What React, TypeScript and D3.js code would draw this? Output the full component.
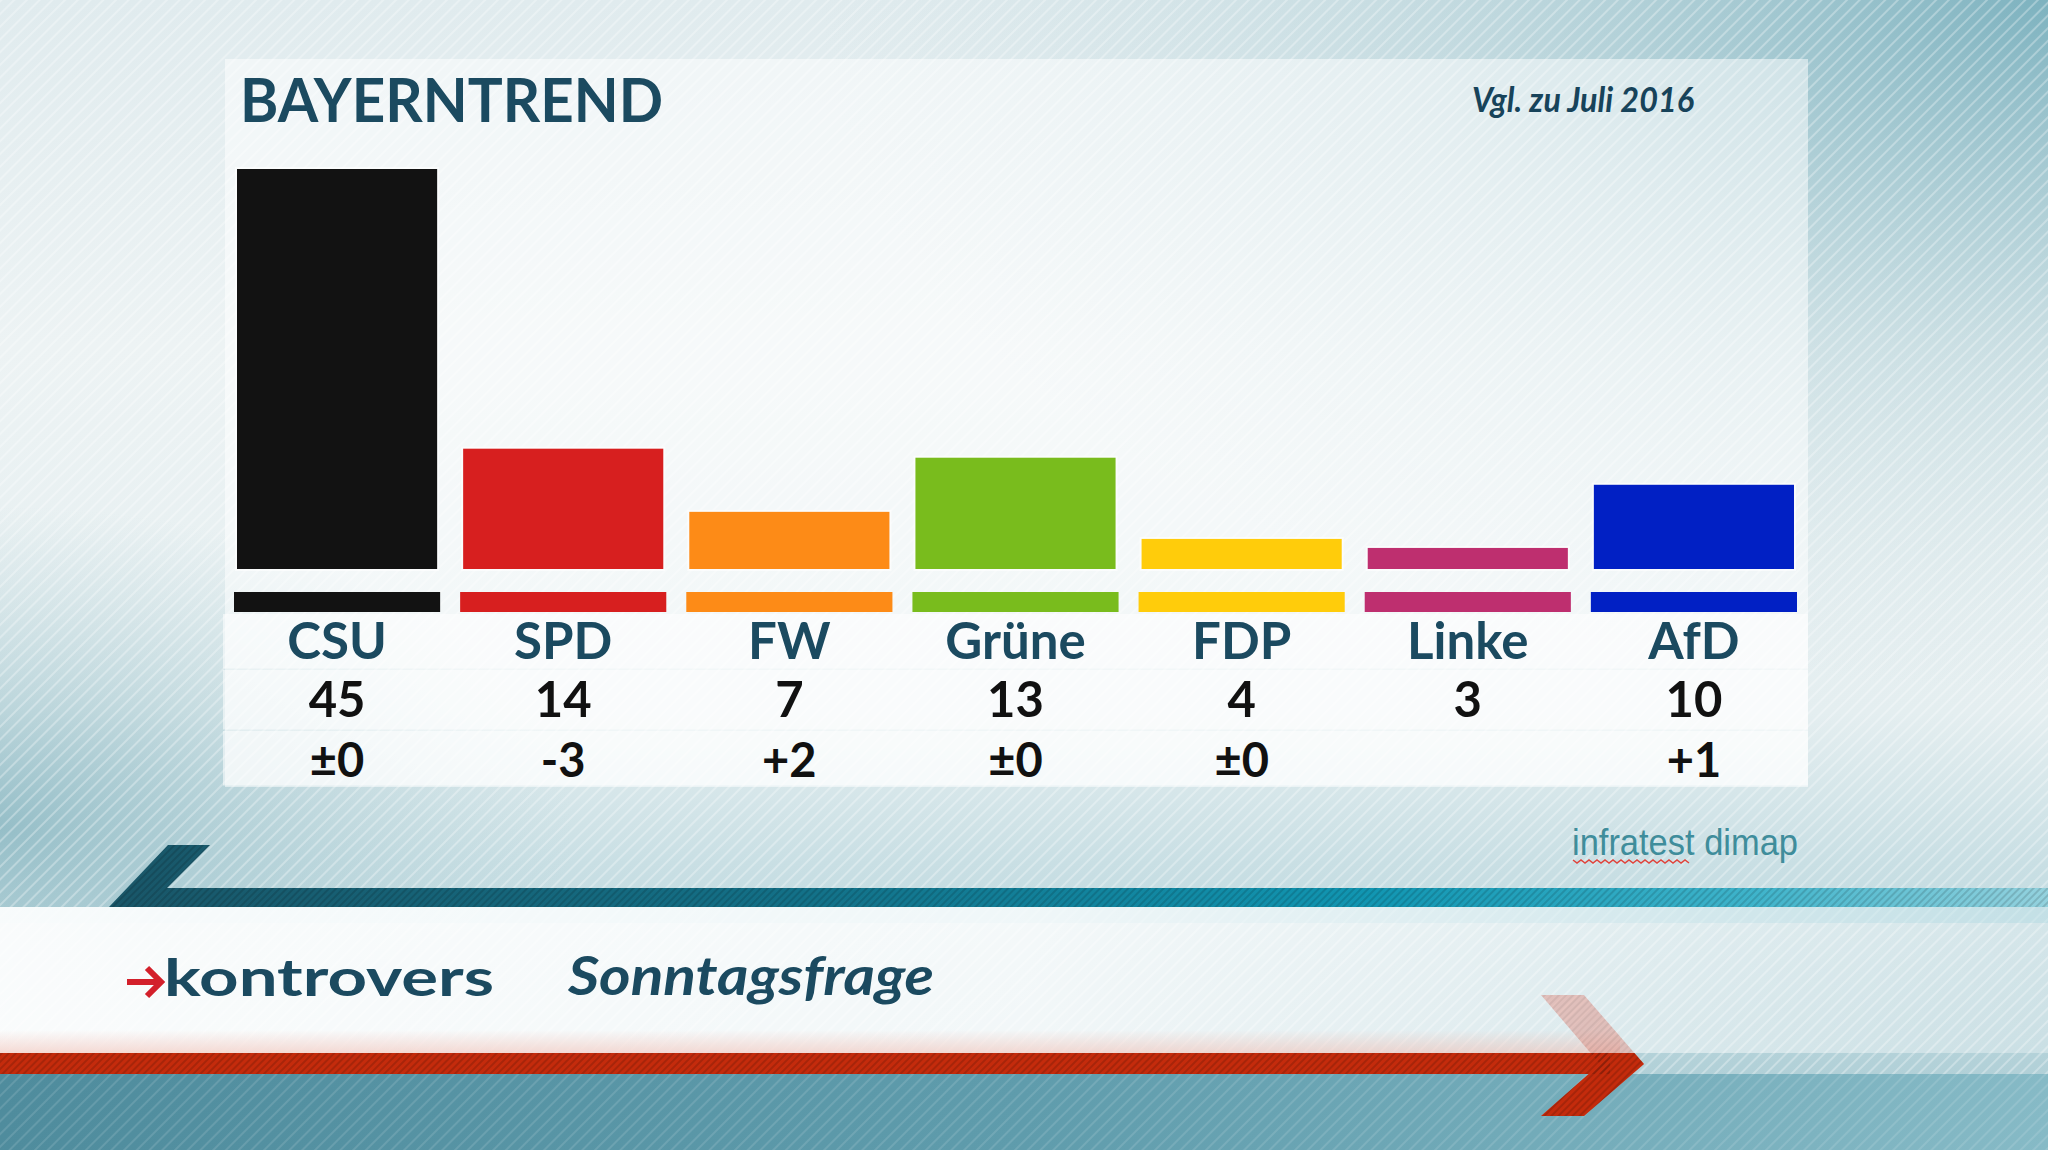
import * as d3 from "d3";

const W = 2048;
const H = 1150;

// chart data
const parties = ["CSU", "SPD", "FW", "Grüne", "FDP", "Linke", "AfD"];
const values = [45, 14, 7, 13, 4, 3, 10];
const changes = ["±0", "-3", "+2", "±0", "±0", "", "+1"];
const colors = ["#121212", "#d71f1f", "#fd8b17", "#79bc1d", "#ffcc0b", "#be2f6f", "#0120c4"];

const title = "BAYERNTREND";
const subtitle = "Vgl. zu Juli 2016";
const source = "infratest dimap";

const panel = { x0: 225, x1: 1808, y0: 59, y1: 787 };
const barBottom = 569;
const stripTop = 592;
const stripBottom = 612;
const rows = [614, 670, 731, 787];

const teal = "#1b4a60";
const font = "Lato, 'Open Sans', sans-serif";

const App = () => {
  const x = d3
    .scaleBand<string>()
    .domain(parties)
    .range([224, 1807])
    .paddingInner(0.115)
    .paddingOuter(0.0575);
  const y = d3.scaleLinear([0, 45], [575, 169]);
  const bw = x.bandwidth();

  const tealBar = d3.line()([
    [168, 845],
    [210, 845],
    [167, 888],
    [W, 888],
    [W, 907],
    [109, 907],
  ]) + "Z";
  const chevron = d3.line()([
    [1541, 995],
    [1584, 995],
    [1644, 1064],
    [1584, 1116],
    [1541, 1116],
    [1600, 1064],
  ]) + "Z";
  const redBar = "M0,1053H1610V1074H0Z";

  return (
    <svg width={W} height={H} style={{ display: "block", position: "absolute", left: 0, top: 0 }}>
      <defs>
        <linearGradient id="bg" x1="0" y1="0" x2="0" y2="1">
          <stop offset="0" stopColor="#e0ebee" />
          <stop offset="0.3" stopColor="#edf3f4" />
          <stop offset="0.62" stopColor="#e4eef0" />
          <stop offset="0.75" stopColor="#c9dfe4" />
          <stop offset="1" stopColor="#a9cbd3" />
        </linearGradient>
        <radialGradient id="tr" cx="1" cy="0" r="0.6">
          <stop offset="0" stopColor="#7db2bf" stopOpacity="1" />
          <stop offset="0.5" stopColor="#a7cad2" stopOpacity="0.5" />
          <stop offset="1" stopColor="#c7dde2" stopOpacity="0" />
        </radialGradient>
        <radialGradient id="lt" cx="0" cy="0.72" r="0.28">
          <stop offset="0" stopColor="#8fbac4" stopOpacity="0.9" />
          <stop offset="1" stopColor="#b5d2d8" stopOpacity="0" />
        </radialGradient>
        <pattern id="stripes" width="9" height="9" patternUnits="userSpaceOnUse" patternTransform="rotate(45)">
          <line x1="1" y1="0" x2="1" y2="9" stroke="#ffffff" strokeWidth="2" />
        </pattern>
        <pattern id="darkStripes" width="5" height="5" patternUnits="userSpaceOnUse" patternTransform="rotate(45)">
          <line x1="1" y1="0" x2="1" y2="5" stroke="#000000" strokeWidth="1.5" />
        </pattern>
        <linearGradient id="tealBar" x1="0" y1="0" x2="1" y2="0">
          <stop offset="0" stopColor="#195668" />
          <stop offset="0.35" stopColor="#137087" />
          <stop offset="0.65" stopColor="#1196b2" />
          <stop offset="0.85" stopColor="#3fb4cb" />
          <stop offset="1" stopColor="#94d2de" />
        </linearGradient>
        <linearGradient id="whiteBand" x1="0" y1="0" x2="1" y2="0">
          <stop offset="0" stopColor="#ffffff" stopOpacity="0.93" />
          <stop offset="0.5" stopColor="#ffffff" stopOpacity="0.82" />
          <stop offset="1" stopColor="#ffffff" stopOpacity="0.3" />
        </linearGradient>
        <linearGradient id="pink" x1="0" y1="0" x2="0" y2="1">
          <stop offset="0" stopColor="#f0b8ac" stopOpacity="0" />
          <stop offset="1" stopColor="#f0b8ac" stopOpacity="0.5" />
        </linearGradient>
        <linearGradient id="bottomTeal" x1="0" y1="0" x2="1" y2="0">
          <stop offset="0" stopColor="#4f8c9d" />
          <stop offset="0.5" stopColor="#5f9cac" />
          <stop offset="1" stopColor="#86bac6" />
        </linearGradient>
        <clipPath id="lowerHalf">
          <rect x="0" y="1053" width={W} height={H - 1053} />
        </clipPath>
      </defs>

      {/* background */}
      <rect width={W} height={H} fill="url(#bg)" />
      <rect width={W} height={H} fill="url(#tr)" />
      <rect width={W} height={H} fill="url(#lt)" />
      <rect width={W} height={H} fill="url(#stripes)" opacity={0.3} />

      {/* panel */}
      <rect x={panel.x0} y={panel.y0} width={panel.x1 - panel.x0} height={panel.y1 - panel.y0} fill="#ffffff" opacity={0.5} />
      {rows.slice(0, -1).map((r, i) => (
        <rect key={i} x={panel.x0 - 2} y={r} width={panel.x1 - panel.x0 + 2} height={rows[i + 1] - r - 1.5} fill="#ffffff" opacity={0.55} />
      ))}

      <text x={240} y={122} fontFamily={font} fontWeight={700} fontSize={61} fill={teal} textLength={423} lengthAdjust="spacingAndGlyphs">
        {title}
      </text>
      <text x={1472} y={112} fontFamily={font} fontWeight={700} fontStyle="italic" fontSize={35} fill="#17435a" textLength={222} lengthAdjust="spacingAndGlyphs">
        {subtitle}
      </text>

      {/* bars */}
      {parties.map((p, i) => (
        <g key={p}>
          <rect x={x(p)! - 2} y={y(values[i]) - 2} width={bw + 4} height={barBottom - y(values[i]) + 4} fill="#ffffff" opacity={0.6} />
          <rect x={x(p)} y={y(values[i])} width={bw} height={barBottom - y(values[i])} fill={colors[i]} />
          <rect x={x(p)! - 3} y={stripTop} width={bw + 6} height={stripBottom - stripTop} fill={colors[i]} />
          <text x={x(p)! + bw / 2} y={659} textAnchor="middle" fontFamily={font} fontWeight={700} fontSize={51} fill={teal}>
            {p}
          </text>
          <text x={x(p)! + bw / 2} y={717} textAnchor="middle" fontFamily={font} fontWeight={700} fontSize={49} fill="#111111">
            {values[i]}
          </text>
          <text x={x(p)! + bw / 2} y={777} textAnchor="middle" fontFamily={font} fontWeight={700} fontSize={47} fill="#111111">
            {changes[i]}
          </text>
        </g>
      ))}

      {/* source */}
      <text x={1572} y={855} fontFamily="'Liberation Sans Narrow', 'Liberation Sans', sans-serif" fontSize={36} fill="#3f8d9b" textLength={226} lengthAdjust="spacingAndGlyphs">
        {source}
      </text>
      <path
        d={d3.line()(d3.range(0, 30).map((k) => [1573 + k * 4, 861 + (k % 2 ? 2 : -1)] as [number, number])) as string}
        fill="none"
        stroke="#e0443c"
        strokeWidth={1.5}
      />

      {/* lower design bands */}
      <rect x={0} y={907} width={W} height={16} fill="#7cc3d2" opacity={0.35} />
      <path d={tealBar} fill="url(#tealBar)" />
      <path d={tealBar} fill="url(#darkStripes)" opacity={0.18} />
      <rect x={0} y={907} width={W} height={146} fill="url(#whiteBand)" />
      <rect x={0} y={1030} width={1620} height={23} fill="url(#pink)" />
      <rect x={0} y={1074} width={W} height={H - 1074} fill="url(#bottomTeal)" />
      <rect x={0} y={1074} width={W} height={H - 1074} fill="url(#stripes)" opacity={0.12} />
      <path d={chevron} fill="#e28a7c" opacity={0.45} />
      <path d={chevron} fill="url(#darkStripes)" opacity={0.08} />
      <path d={redBar} fill="#c42b0c" />
      <path d={chevron} fill="#c42b0c" clipPath="url(#lowerHalf)" />
      <path d={redBar} fill="url(#darkStripes)" opacity={0.2} />
      <path d={chevron} fill="url(#darkStripes)" opacity={0.2} clipPath="url(#lowerHalf)" />

      {/* logo */}
      <g stroke="#d3202b" strokeWidth={6} fill="none">
        <line x1={127} y1={982} x2={160} y2={982} />
        <polyline points="147,968 161,982 147,996" />
      </g>
      <text x={164} y={996} fontFamily={font} fontWeight={700} fontSize={52} fill={teal} textLength={330} lengthAdjust="spacingAndGlyphs">
        kontrovers
      </text>
      <text x={568} y={995} fontFamily={font} fontWeight={700} fontStyle="italic" fontSize={53} fill={teal} textLength={366} lengthAdjust="spacingAndGlyphs">
        Sonntagsfrage
      </text>
    </svg>
  );
};

export default App;
